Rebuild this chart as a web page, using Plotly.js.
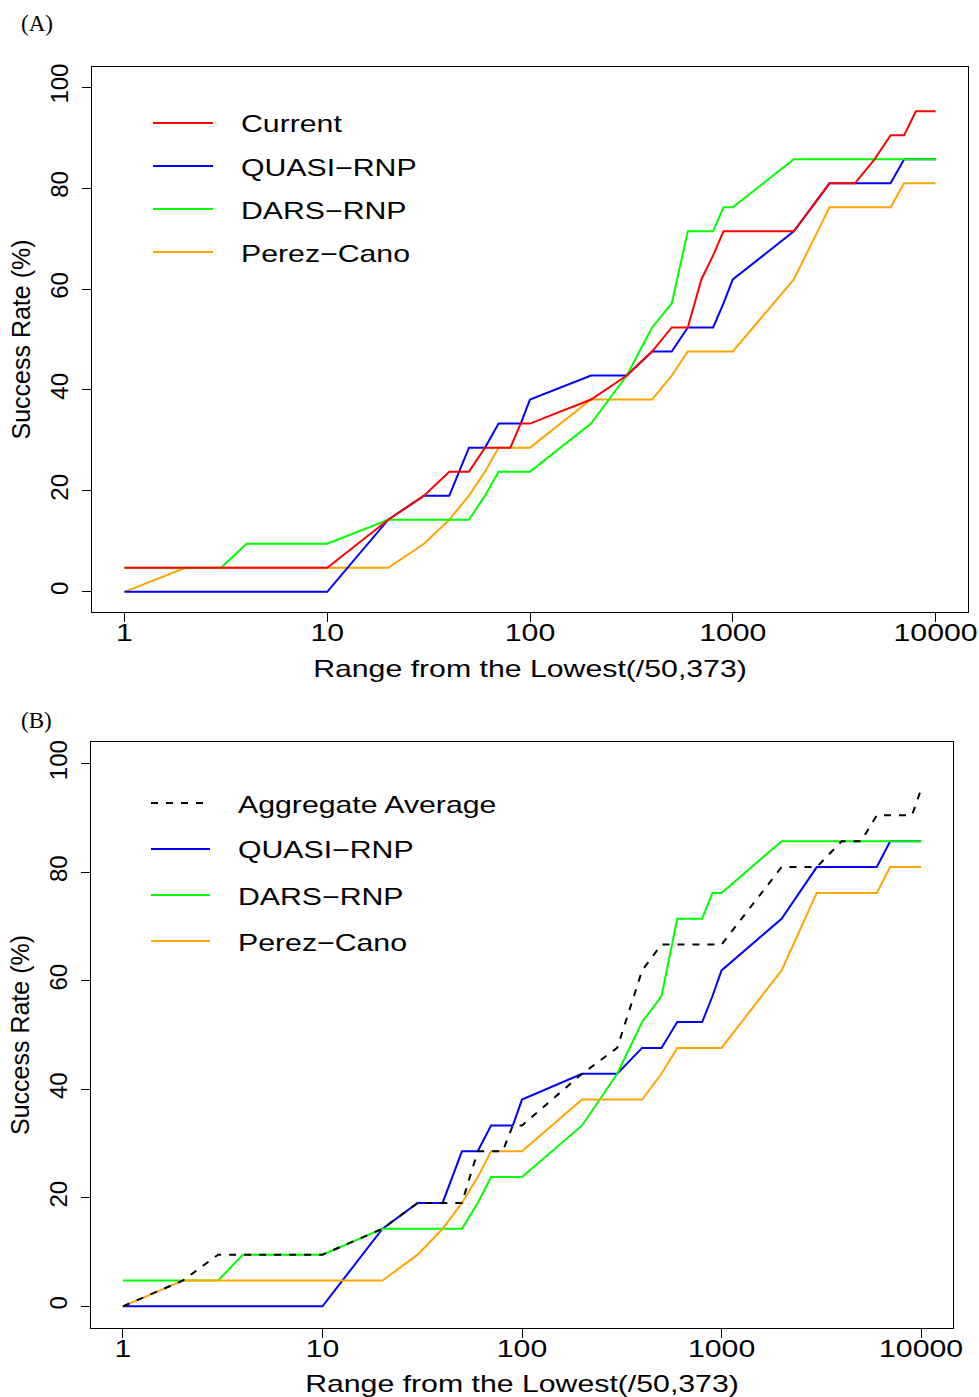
<!DOCTYPE html>
<html>
<head>
<meta charset="utf-8">
<script src="https://cdn.plot.ly/plotly-3.0.1.min.js"></script>
<style>
  html, body { margin: 0; padding: 0; background: #ffffff; }
  #chart { width: 979px; height: 1397px; }
</style>
</head>
<body>
<div id="chart"></div>
<script>
// Range from the lowest (x) sampled on a 1-2-...-9 grid per decade
const rangeFromLowest = [1, 2, 3, 4, 5, 6, 7, 8, 9,
  10, 20, 30, 40, 50, 60, 70, 80, 90,
  100, 200, 300, 400, 500, 600, 700, 800, 900,
  1000, 2000, 3000, 4000, 5000, 6000, 7000, 8000, 9000, 10000];

// Success rate (%) for each method
const current = [4.76, 4.76, 4.76, 4.76, 4.76, 4.76, 4.76, 4.76, 4.76,
  4.76, 14.29, 19.05, 23.81, 23.81, 28.57, 28.57, 28.57, 33.33,
  33.33, 38.10, 42.86, 47.62, 52.38, 52.38, 61.90, 66.67, 71.43,
  71.43, 71.43, 80.95, 80.95, 85.71, 90.48, 90.48, 95.24, 95.24, 95.24];

const quasiRnp = [0, 0, 0, 0, 0, 0, 0, 0, 0,
  0, 14.29, 19.05, 19.05, 28.57, 28.57, 33.33, 33.33, 33.33,
  38.10, 42.86, 42.86, 47.62, 47.62, 52.38, 52.38, 52.38, 57.14,
  61.90, 71.43, 80.95, 80.95, 80.95, 80.95, 85.71, 85.71, 85.71, 85.71];

const darsRnp = [4.76, 4.76, 4.76, 9.52, 9.52, 9.52, 9.52, 9.52, 9.52,
  9.52, 14.29, 14.29, 14.29, 14.29, 19.05, 23.81, 23.81, 23.81,
  23.81, 33.33, 42.86, 52.38, 57.14, 71.43, 71.43, 71.43, 76.19,
  76.19, 85.71, 85.71, 85.71, 85.71, 85.71, 85.71, 85.71, 85.71, 85.71];

const perezCano = [0, 4.76, 4.76, 4.76, 4.76, 4.76, 4.76, 4.76, 4.76,
  4.76, 4.76, 9.52, 14.29, 19.05, 23.81, 28.57, 28.57, 28.57,
  28.57, 38.10, 38.10, 38.10, 42.86, 47.62, 47.62, 47.62, 47.62,
  47.62, 61.90, 76.19, 76.19, 76.19, 76.19, 80.95, 80.95, 80.95, 80.95];

const aggregateAverage = [0, 4.76, 9.52, 9.52, 9.52, 9.52, 9.52, 9.52, 9.52,
  9.52, 14.29, 19.05, 19.05, 19.05, 28.57, 28.57, 28.57, 33.33,
  33.33, 42.86, 47.62, 61.90, 66.67, 66.67, 66.67, 66.67, 66.67,
  66.67, 80.95, 80.95, 85.71, 85.71, 90.48, 90.48, 90.48, 90.48, 95.24];

// Axis ticks and labels
const xTickValues = [1, 10, 100, 1000, 10000];
const xTickLabels = ['1', '10', '100', '1000', '10000'];
const yTickValues = [0, 20, 40, 60, 80, 100];
const yTickLabels = ['0', '20', '40', '60', '80', '100'];

const xTitle = 'Range from the Lowest(/50,373)';
const yTitle = 'Success Rate (%)';
const panelLabels = ['(A)', '(B)'];

const namesA = ['Current', 'QUASI\u2212RNP', 'DARS\u2212RNP', 'Perez\u2212Cano'];
const namesB = ['Aggregate Average', 'QUASI\u2212RNP', 'DARS\u2212RNP', 'Perez\u2212Cano'];

// ---- styling ----
const W = 979, H = 1397;
const fx = p => p / W;
const fy = p => 1 - p / H;

const RED = '#ff0000', BLUE = '#0000ff', GREEN = '#00ff00', ORANGE = '#ffa500', BLACK = '#000000';
const LW = 2;
const SANS = 'Liberation Sans, Arial, Helvetica, sans-serif';
const SERIF = 'Liberation Serif, Times New Roman, serif';
const DASH = '7px,8px';

function line(x, y, color, dash, xa, ya) {
  return {
    x: x, y: y, type: 'scatter', mode: 'lines',
    line: { color: color, width: LW, dash: dash || 'solid' },
    xaxis: xa, yaxis: ya, showlegend: false, hoverinfo: 'skip'
  };
}

const traces = [
  // panel A
  line(rangeFromLowest, perezCano, ORANGE, null, 'x', 'y'),
  line(rangeFromLowest, quasiRnp, BLUE, null, 'x', 'y'),
  line(rangeFromLowest, darsRnp, GREEN, null, 'x', 'y'),
  line(rangeFromLowest, current, RED, null, 'x', 'y'),
  // panel B
  line(rangeFromLowest, quasiRnp, BLUE, null, 'x2', 'y2'),
  line(rangeFromLowest, darsRnp, GREEN, null, 'x2', 'y2'),
  line(rangeFromLowest, perezCano, ORANGE, null, 'x2', 'y2'),
  line(rangeFromLowest, aggregateAverage, BLACK, DASH, 'x2', 'y2')
];

function xAxis(domain, anchor) {
  return {
    type: 'log', range: [-0.16, 4.16], domain: domain, anchor: anchor,
    tickmode: 'array', tickvals: xTickValues, ticktext: xTickLabels,
    ticks: 'outside', ticklen: 9, tickwidth: 1, tickcolor: '#000',
    tickfont: { family: SANS, size: 24, color: '#000' },
    ticklabelstandoff: -10,
    showline: true, mirror: true, linecolor: '#000', linewidth: 1,
    showgrid: false, zeroline: false, automargin: false,
    title: { text: xTitle, font: { family: SANS, size: 24, color: '#000' }, standoff: 15 }
  };
}

function yAxis(domain, anchor) {
  return {
    range: [-4, 104], domain: domain, anchor: anchor,
    tickmode: 'array', tickvals: yTickValues, ticktext: yTickLabels,
    tickangle: -90,
    ticks: 'outside', ticklen: 9, tickwidth: 1, tickcolor: '#000',
    tickfont: { family: SANS, size: 24, color: '#000' },
    ticklabelstandoff: 4,
    showline: true, mirror: true, linecolor: '#000', linewidth: 1,
    showgrid: false, zeroline: false, automargin: false,
    title: { text: yTitle, font: { family: SANS, size: 25, color: '#000' }, standoff: 8 }
  };
}

// hand-drawn legends: a short line sample plus a label per entry
const shapes = [];
const annotations = [];

function addLegend(names, colors, dashes, lineX0, lineX1, textX, rowsY) {
  names.forEach((name, i) => {
    shapes.push({
      type: 'line', xref: 'paper', yref: 'paper',
      x0: fx(lineX0), x1: fx(lineX1), y0: fy(rowsY[i]), y1: fy(rowsY[i]),
      line: { color: colors[i], width: LW, dash: dashes[i] }
    });
    annotations.push({
      xref: 'paper', yref: 'paper', x: fx(textX), y: fy(rowsY[i] + 1),
      xanchor: 'left', yanchor: 'middle', align: 'left', showarrow: false,
      text: name, font: { family: SANS, size: 24, color: '#000' }
    });
  });
}

// panel tags
annotations.push({
  xref: 'paper', yref: 'paper', x: fx(19), y: fy(24), xanchor: 'left', yanchor: 'middle',
  showarrow: false, text: panelLabels[0], font: { family: SERIF, size: 23, color: '#000' }
});
annotations.push({
  xref: 'paper', yref: 'paper', x: fx(19), y: fy(720), xanchor: 'left', yanchor: 'middle',
  showarrow: false, text: panelLabels[1], font: { family: SERIF, size: 23, color: '#000' }
});

addLegend(namesA, [RED, BLUE, GREEN, ORANGE], ['solid', 'solid', 'solid', 'solid'],
  153, 213, 239, [123, 166, 209, 252]);
addLegend(namesB, [BLACK, BLUE, GREEN, ORANGE], [DASH, 'solid', 'solid', 'solid'],
  151, 210, 236, [803, 849, 895, 941]);

const layout = {
  width: W, height: H, autosize: false,
  margin: { l: 0, r: 0, t: 0, b: 0, pad: 0 },
  paper_bgcolor: '#ffffff', plot_bgcolor: '#ffffff',
  showlegend: false,
  xaxis: xAxis([fx(92), fx(968)], 'y'),
  yaxis: yAxis([fy(612), fy(67)], 'x'),
  xaxis2: xAxis([fx(91), fx(953)], 'y2'),
  yaxis2: yAxis([fy(1328), fy(742)], 'x2'),
  shapes: shapes,
  annotations: annotations
};

// horizontal labels in this figure are set wide; widen the glyphs to suit
function widen(gd, factor) {
  const nodes = gd.querySelectorAll(
    '.xtick text, .x2tick text, .g-xtitle text, .g-x2title text, .annotation[data-index] text.annotation-text');
  nodes.forEach(el => {
    const g = el.closest('.annotation');
    if (g) {
      const idx = +g.getAttribute('data-index');
      if (idx < 2) return; // panel tags stay as they are
    }
    const w = el.getComputedTextLength();
    el.setAttribute('textLength', (w * factor).toFixed(1));
    el.setAttribute('lengthAdjust', 'spacingAndGlyphs');
  });
}

const gd = document.getElementById('chart');
Plotly.newPlot(gd, traces, layout, { staticPlot: true, displayModeBar: false })
  .then(() => widen(gd, 1.26));
</script>
</body>
</html>
